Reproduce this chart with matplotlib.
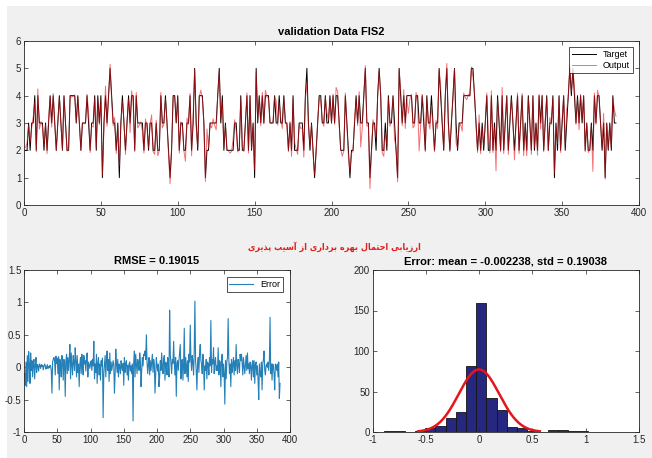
import matplotlib

matplotlib.use("Agg")
import matplotlib.pyplot as plt
import numpy as np
from matplotlib.patches import Rectangle
from matplotlib.ticker import FormatStrFormatter

plt.rcParams["font.family"] = ["Liberation Sans Narrow", "Liberation Sans", "DejaVu Sans"]

# target class per validation sample
targets = [
    2, 2, 3, 2, 3, 3, 4, 2, 4, 3,
    3, 3, 2, 3, 2, 3, 4, 3, 4, 3,
    2, 3, 4, 3, 2, 4, 3, 2, 2, 4,
    4, 4, 4, 3, 4, 3, 2, 3, 3, 3,
    4, 3, 2, 3, 3, 4, 2, 4, 3, 4,
    1, 3, 4, 3, 4, 5, 4, 3, 3, 2,
    3, 1, 3, 4, 3, 2, 3, 4, 3, 4,
    4, 2, 4, 3, 3, 3, 3, 2, 3, 3,
    2, 3, 3, 2, 2, 3, 2, 2, 4, 3,
    3, 4, 3, 2, 1, 2, 4, 4, 3, 4,
    2, 3, 3, 2, 2, 3, 3, 4, 2, 3,
    5, 3, 2, 4, 4, 4, 3, 1, 2, 2,
    3, 3, 3, 3, 3, 4, 5, 3, 4, 2,
    3, 2, 2, 2, 2, 2, 3, 3, 2, 2,
    4, 2, 2, 3, 4, 2, 4, 2, 3, 1,
    5, 3, 4, 3, 4, 3, 4, 4, 4, 3,
    3, 3, 4, 3, 3, 4, 3, 3, 4, 3,
    3, 2, 3, 2, 4, 2, 2, 2, 3, 3,
    3, 2, 4, 5, 3, 2, 3, 2, 1, 2,
    3, 4, 4, 3, 3, 4, 3, 3, 4, 3,
    4, 3, 4, 4, 3, 2, 2, 2, 4, 3,
    2, 1, 2, 2, 3, 4, 3, 4, 3, 3,
    4, 5, 3, 3, 1, 2, 3, 3, 2, 4,
    5, 4, 2, 2, 3, 2, 4, 3, 3, 4,
    3, 2, 1, 5, 4, 3, 4, 3, 4, 4,
    4, 4, 3, 3, 4, 4, 3, 3, 4, 3,
    2, 4, 3, 3, 4, 3, 2, 3, 3, 5,
    4, 3, 2, 4, 5, 3, 2, 3, 4, 5,
    3, 2, 3, 3, 3, 4, 4, 4, 4, 4,
    5, 5, 4, 3, 2, 3, 2, 3, 2, 3,
    4, 2, 2, 4, 2, 3, 2, 4, 3, 2,
    4, 2, 3, 4, 2, 3, 4, 3, 2, 3,
    4, 2, 3, 4, 2, 3, 2, 4, 3, 2,
    4, 2, 3, 2, 4, 3, 4, 2, 3, 4,
    2, 3, 3, 4, 1, 3, 2, 4, 2, 3,
    4, 2, 3, 4, 5, 4, 5, 4, 3, 4,
    3, 4, 3, 4, 2, 3, 2, 2, 3, 2,
    4, 3, 4, 4, 3, 2, 3, 1, 3, 2,
    3, 2, 4, 3, 3,
]

# error = target - output
errors = [
    -0.10, -0.28, 0.08, -0.30, 0.18, -0.22, 0.24, 0.05, -0.25, 0.22,
    -0.05, 0.10, -0.15, 0.06, 0.12, -0.18, 0.03, 0.15, -0.08, 0.04,
    0.02, -0.06, 0.05, 0.03, -0.02, 0.04, 0.01, 0.03, -0.04, 0.02,
    0.05, 0.02, -0.03, 0.00, 0.04, -0.02, 0.01, -0.01, 0.03, 0.02,
    -0.05, -0.40, 0.08, 0.12, 0.15, 0.10, -0.12, 0.17, 0.06, 0.14,
    -0.10, 0.16, -0.35, 0.12, 0.05, -0.15, 0.18, 0.10, -0.20, 0.12,
    0.08, -0.45, 0.10, 0.20, -0.10, 0.15, -0.05, 0.12, 0.35, -0.18,
    0.22, 0.05, -0.12, 0.18, 0.08, -0.05, 0.30, 0.10, -0.15, 0.18,
    -0.08, 0.05, -0.30, 0.05, 0.15, -0.10, 0.20, 0.02, -0.12, 0.18,
    0.05, 0.10, -0.06, 0.15, 0.22, -0.15, 0.08, 0.04, -0.02, 0.06,
    0.10, -0.05, 0.12, 0.02, 0.40, -0.18, 0.05, -0.08, 0.20, -0.25,
    0.06, 0.15, -0.12, 0.05, -0.20, 0.10, 0.02, 0.14, -0.78, -0.10,
    0.05, 0.18, -0.15, 0.08, 0.25, -0.05, 0.12, -0.22, 0.22, -0.10,
    0.08, -0.05, 0.02, 0.10, 0.04, -0.40, -0.12, 0.28, 0.06, -0.08,
    0.12, -0.15, 0.05, 0.02, -0.10, 0.10, 0.00, -0.05, 0.06, -0.28,
    0.15, -0.08, 0.05, 0.10, -0.12, 0.03, -0.20, 0.05, 0.08, -0.06,
    0.02, -0.10, 0.05, -0.83, 0.08, 0.25, -0.15, 0.20, 0.04, -0.10,
    0.12, 0.05, -0.05, 0.22, 0.10, -0.30, -0.05, 0.15, 0.02, 0.20,
    0.18, 0.25, 0.12, 0.50, 0.08, -0.10, 0.05, 0.15, -0.12, 0.10,
    -0.05, 0.08, 0.20, -0.08, 0.12, 0.05, -0.40, -0.10, 0.15, 0.02,
    -0.06, 0.05, -0.30, -0.15, 0.10, -0.05, 0.22, 0.02, -0.10, 0.12,
    0.18, -0.20, 0.08, 0.05, -0.12, 0.15, 0.10, -0.15, 0.88, 0.20,
    0.05, -0.10, 0.12, 0.06, 0.40, 0.08, -0.12, 0.15, -0.45, 0.06,
    0.10, -0.05, 0.10, 0.22, 0.35, -0.18, 0.08, 0.12, -0.20, 0.05,
    0.60, -0.10, 0.15, 0.05, -0.15, 0.10, -0.22, 0.20, 0.08, 0.65,
    0.12, -0.05, 0.18, 0.08, -0.12, 0.25, 1.02, 0.10, -0.05, -0.35,
    0.05, 0.15, -0.08, 0.22, 0.35, 0.10, 0.05, -0.10, 0.20, 0.08,
    -0.35, 0.02, -0.05, 0.12, -0.18, 0.08, 0.05, -0.12, 0.15, 0.02,
    0.72, -0.08, 0.12, 0.05, 0.30, -0.10, 0.08, 0.15, -0.05, 0.02,
    -0.05, 0.30, -0.12, 0.10, 0.08, -0.30, 0.12, 0.20, -0.15, 0.05,
    -0.10, -0.57, 0.10, -0.18, 0.08, 0.15, 0.75, 0.12, -0.10, 0.05,
    -0.30, 0.12, -0.08, 0.05, 0.15, -0.12, 0.10, -0.05, 0.35, 0.02,
    -0.10, 0.12, 0.05, -0.08, 0.20, 0.10, 0.20, 0.08, -0.12, 0.15,
    0.02, -0.10, 0.05, 0.18, -0.05, 0.22, -0.02, 0.05, -0.10, 0.08,
    0.02, -0.20, 0.05, 0.10, -0.15, 0.10, -0.25, 0.05, 0.08, -0.12,
    0.02, -0.20, -0.50, 0.05, -0.10, -0.15, 0.08, -0.35, 0.05, 0.12,
    0.25, -0.05, -0.12, 0.02, 0.05, 0.00, 0.08, -0.05, 0.10, 0.77,
    -0.10, 0.05, -0.20, 0.05, 0.02, -0.10, -0.35, 0.05, 0.02, -0.05,
    0.05, -0.15, 0.08, -0.48, -0.25,
]

# histogram as drawn in the bottom-right panel (20 bins)
hist_range = (-0.89, 1.024)
hist_counts = [1, 1, 0, 1, 5, 7, 17, 25, 81, 159, 42, 27, 6, 5, 1, 0, 2, 2, 1, 1]

rmse = 0.19015
err_mean = -0.002238
err_std = 0.19038

title_fa = "ارزیابی احتمال بهره برداری از آسیب پذیری"

# contextual forms: isolated, final, initial, medial
AR_FORMS = {
    "ا": ("\uFE8D", "\uFE8E", None, None),
    "آ": ("\uFE81", "\uFE82", None, None),
    "ر": ("\uFEAD", "\uFEAE", None, None),
    "ز": ("\uFEAF", "\uFEB0", None, None),
    "د": ("\uFEA9", "\uFEAA", None, None),
    "ذ": ("\uFEAB", "\uFEAC", None, None),
    "ب": ("\uFE8F", "\uFE90", "\uFE91", "\uFE92"),
    "پ": ("\uFB56", "\uFB57", "\uFB58", "\uFB59"),
    "ت": ("\uFE95", "\uFE96", "\uFE97", "\uFE98"),
    "ح": ("\uFEA1", "\uFEA2", "\uFEA3", "\uFEA4"),
    "س": ("\uFEB1", "\uFEB2", "\uFEB3", "\uFEB4"),
    "ل": ("\uFEDD", "\uFEDE", "\uFEDF", "\uFEE0"),
    "م": ("\uFEE1", "\uFEE2", "\uFEE3", "\uFEE4"),
    "ه": ("\uFEE9", "\uFEEA", "\uFEEB", "\uFEEC"),
    "ی": ("\uFBFC", "\uFBFD", "\uFBFE", "\uFBFF"),
}


def shape_persian(text):
    # matplotlib has no arabic shaping/bidi, so pick the joined forms and reverse
    out = []
    for i, ch in enumerate(text):
        forms = AR_FORMS.get(ch)
        if forms is None:
            out.append(ch)
            continue
        prev = text[i - 1] if i > 0 else ""
        nxt = text[i + 1] if i + 1 < len(text) else ""
        joins_prev = prev in AR_FORMS and AR_FORMS[prev][2] is not None
        joins_next = forms[2] is not None and nxt in AR_FORMS
        if joins_prev and joins_next:
            out.append(forms[3])
        elif joins_next:
            out.append(forms[2])
        elif joins_prev:
            out.append(forms[1])
        else:
            out.append(forms[0])
    return "".join(reversed(out))


def matlab_axes(axis):
    axis.set_facecolor("white")
    for spine in axis.spines.values():
        spine.set_color("#262626")
        spine.set_linewidth(0.6)
    axis.tick_params(direction="in", length=3, width=0.5, top=True, right=True,
                     labelsize=7, colors="#262626", pad=2)


target = np.array(targets, dtype=float)
error = np.array(errors)
output = target - error
samples = np.arange(1, len(target) + 1)

W, H = 652, 458
fig = plt.figure(figsize=(W / 100, H / 100), dpi=100, facecolor="white")
fig.patches.append(Rectangle((7 / W, 0), 1, 1 - 6 / H, transform=fig.transFigure,
                             facecolor="#F0F0F0", edgecolor="none", zorder=-10))

# top: target vs output
ax_top = fig.add_axes([24 / W, 1 - 205 / H, 615 / W, 164 / H])
matlab_axes(ax_top)
ax_top.plot(samples, target, color="black", linewidth=0.7, label="Target")
ax_top.plot(samples, output, color="#E8141B", linewidth=0.7, alpha=0.6, label="Output")
ax_top.set_xlim(0, 400)
ax_top.set_ylim(0, 6)
ax_top.set_xticks(np.arange(0, 401, 50))
ax_top.set_yticks(np.arange(0, 7, 1))
ax_top.set_title("validation Data FIS2", fontsize=8, fontweight="bold", pad=4)
leg = ax_top.legend(loc="upper right", fontsize=6.5, fancybox=False, edgecolor="black",
                    handlelength=2.6, borderpad=0.3, labelspacing=0.2, borderaxespad=0.7)
leg.get_frame().set_linewidth(0.6)

# bottom-left: error series
ax_err = fig.add_axes([24 / W, 1 - 432 / H, 266 / W, 162 / H])
matlab_axes(ax_err)
ax_err.plot(samples, error, color="#2680b8", linewidth=0.8, label="Error")
ax_err.set_xlim(0, 400)
ax_err.set_ylim(-1, 1.5)
ax_err.set_xticks(np.arange(0, 401, 50))
ax_err.set_yticks(np.arange(-1, 1.51, 0.5))
ax_err.yaxis.set_major_formatter(FormatStrFormatter("%g"))
ax_err.set_title(f"RMSE = {rmse:g}", fontsize=8, fontweight="bold", pad=4)
leg = ax_err.legend(loc="upper right", fontsize=6.5, fancybox=False, edgecolor="black",
                    handlelength=2.6, borderpad=0.3, borderaxespad=0.8)
leg.get_frame().set_linewidth(0.6)

# bottom-right: histogram with normal fit
ax_hist = fig.add_axes([372.7 / W, 1 - 432 / H, 266.3 / W, 162 / H])
matlab_axes(ax_hist)
edges = np.linspace(hist_range[0], hist_range[1], len(hist_counts) + 1)
ax_hist.bar(edges[:-1], hist_counts, width=np.diff(edges), align="edge",
            color="#26287F", edgecolor="#151515", linewidth=0.6)
x_fit = np.linspace(err_mean - 3 * err_std, err_mean + 3 * err_std, 200)
bin_width = edges[1] - edges[0]
y_fit = len(error) * bin_width * np.exp(-0.5 * ((x_fit - err_mean) / err_std) ** 2) / (err_std * np.sqrt(2 * np.pi))
ax_hist.plot(x_fit, y_fit, color="#E8141B", linewidth=1.8)
ax_hist.set_xlim(-1, 1.5)
ax_hist.set_ylim(0, 200)
ax_hist.set_xticks(np.arange(-1, 1.51, 0.5))
ax_hist.set_yticks(np.arange(0, 201, 50))
ax_hist.xaxis.set_major_formatter(FormatStrFormatter("%g"))
ax_hist.set_title(f"Error: mean = {err_mean:g}, std = {err_std:g}", fontsize=8, fontweight="bold", pad=4)

fig.text(334 / W, 1 - 247 / H, shape_persian(title_fa), color="#E0201B", fontsize=6.5,
         fontweight="bold", fontstretch="condensed", ha="center", va="center",
         family=["DejaVu Sans"])

fig.savefig("out.png", dpi=100)
